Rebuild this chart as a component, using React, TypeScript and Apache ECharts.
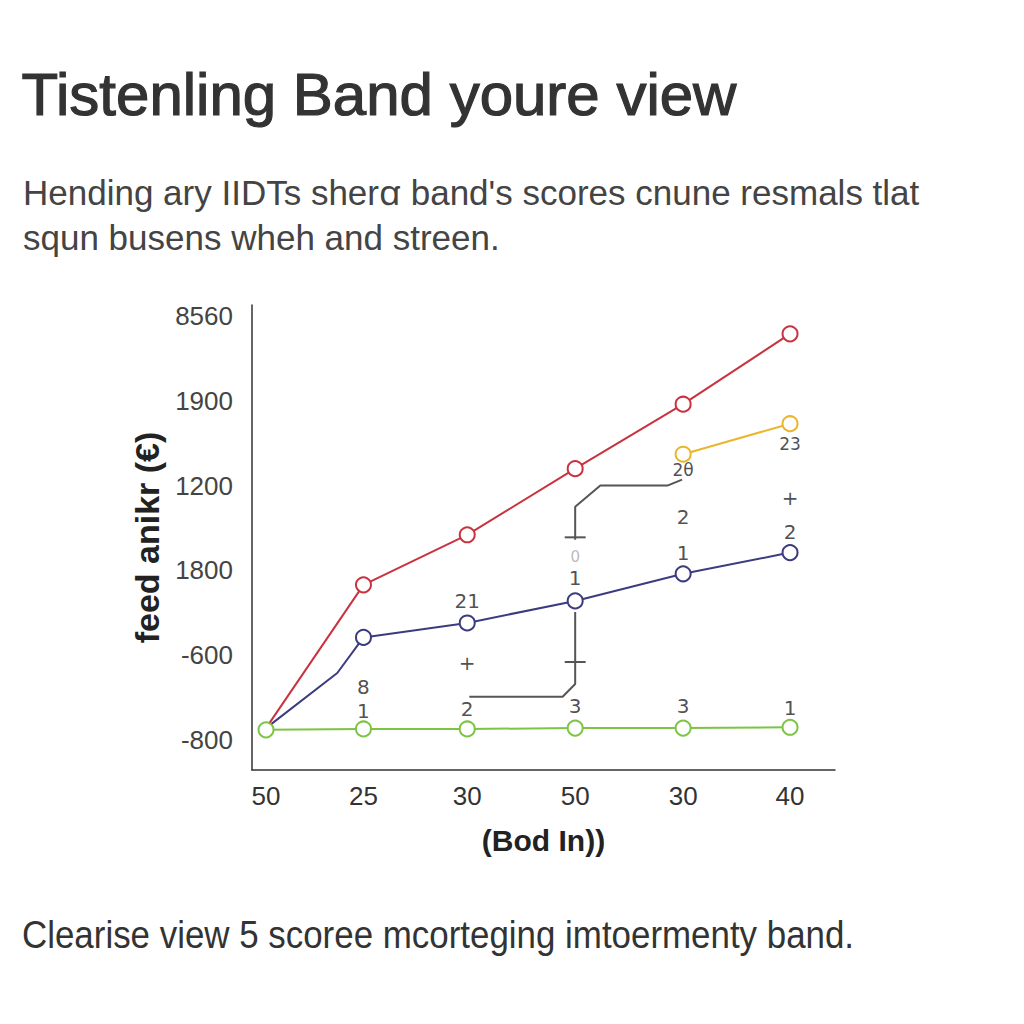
import React, { useEffect, useRef } from "react";
import * as echarts from "echarts";

const titleText = "Tistenling Band youre view";
const subtitleLines = [
  "Hending ary IIDTs sherꭤ band's scores cnune resmals tlat",
  "squn busens wheh and streen.",
];
const footerText = "Clearise view 5 scoree mcorteging imtoermenty band.";
const xAxisName = "(Bod In))";
const yAxisName = "feed anikr (€)";

// category labels and their read positions along the x axis
const xLabels = ["50", "25", "30", "50", "30", "40"];
const xPos = [0, 0.93, 1.92, 2.95, 3.98, 5];
// y tick labels, evenly spaced (position index 0..5)
const yLabels = ["-800", "-600", "1800", "1200", "1900", "8560"];
const yTickPos = [0, 1, 2, 3, 4, 5];

// series values, in y-tick units
const redValues = [0.14, 1.83, 2.42, 3.2, 3.96, 4.79];
const blueValues = [0.14, 1.21, 1.38, 1.64, 1.96, 2.21];
const blueBend = [0.68, 0.79];
const greenValues = [0.12, 0.13, 0.13, 0.14, 0.14, 0.15];
const yellowValues = [3.37, 3.73];

// annotation connectors
const connectorUpper = [
  [2.95, 2.36],
  [2.95, 2.75],
  [3.19, 3.0],
  [3.83, 3.0],
  [3.97, 3.07],
];
const connectorLower = [
  [1.94, 0.51],
  [2.83, 0.51],
  [2.95, 0.66],
  [2.95, 1.51],
];
const tickUpper = [
  [2.85, 2.39],
  [3.05, 2.39],
];
const tickLower = [
  [2.85, 0.92],
  [3.05, 0.92],
];

// annotation texts [x, y, text]
const annotations: [number, number, string][] = [
  [0.93, 0.625, "8"],
  [0.93, 0.34, "1"],
  [1.92, 0.37, "2"],
  [2.95, 0.4, "3"],
  [3.98, 0.4, "3"],
  [5, 0.38, "1"],
  [1.92, 1.64, "21"],
  [2.95, 1.91, "1"],
  [3.98, 2.21, "1"],
  [5, 2.45, "2"],
  [3.98, 2.63, "2"],
  [5, 2.85, "+"],
  [1.92, 0.91, "+"],
];
const smallAnnotations: [number, number, string][] = [
  [3.98, 3.18, "2θ"],
  [5, 3.49, "23"],
];
const grayAnnotations: [number, number, string][] = [[2.95, 2.16, "0"]];

const FONT = "'Liberation Sans', Arial, sans-serif";

export default function App() {
  const ref = useRef<HTMLDivElement>(null);

  useEffect(() => {
    if (!ref.current) return;
    const chart = echarts.init(ref.current, undefined, { renderer: "svg" });

    const lineStyleSeries = (
      name: string,
      color: string,
      data: any[],
      z: number
    ) => ({
      name,
      type: "line",
      data,
      z,
      symbol: "circle",
      symbolSize: 15,
      showSymbol: true,
      lineStyle: { color, width: 2 },
      itemStyle: { color: "#ffffff", borderColor: color, borderWidth: 2 },
    });

    const plainLine = (data: number[][]) => ({
      type: "line",
      data,
      symbol: "none",
      z: 1,
      lineStyle: { color: "#555", width: 2 },
    });

    const redData = redValues.map((v, i) =>
      i === 0 ? { value: [xPos[i], v], symbol: "none" } : [xPos[i], v]
    );
    const blueData: any[] = blueValues.map((v, i) =>
      i === 0 ? { value: [xPos[i], v], symbol: "none" } : [xPos[i], v]
    );
    blueData.splice(1, 0, { value: blueBend, symbol: "none" });
    const greenData = greenValues.map((v, i) => [xPos[i], v]);
    const yellowData = yellowValues.map((v, i) => [xPos[4 + i], v]);

    const textScatter = (
      items: [number, number, string][],
      color: string,
      size: number
    ) => ({
      type: "scatter",
      symbolSize: 0,
      z: 10,
      data: items.map((a) => ({ value: [a[0], a[1]], name: a[2] })),
      label: {
        show: true,
        position: "inside",
        formatter: "{b}",
        color,
        fontSize: size,
        fontFamily: "'DejaVu Sans', sans-serif",
      },
    });

    const option: any = {
      animation: false,
      backgroundColor: "#ffffff",
      grid: { left: 252, top: 305, width: 583, height: 465, containLabel: false },
      xAxis: {
        type: "value",
        min: -0.1336,
        max: 5.429,
        name: xAxisName,
        nameLocation: "middle",
        nameGap: 55,
        nameTextStyle: {
          fontSize: 30,
          fontWeight: "bold",
          color: "#222",
          fontFamily: FONT,
        },
        axisLine: {
          show: true,
          onZero: false,
          lineStyle: { color: "#333", width: 1.5 },
        },
        axisTick: { show: false },
        splitLine: { show: false },
        axisLabel: {
          customValues: xPos,
          formatter: (v: number) => {
            const i = xPos.findIndex((p) => Math.abs(p - v) < 1e-6);
            return i >= 0 ? xLabels[i] : "";
          },
          fontSize: 26,
          color: "#333",
          fontFamily: FONT,
          margin: 13,
        },
      },
      yAxis: {
        type: "value",
        min: -0.354,
        max: 5.13,
        name: yAxisName,
        nameLocation: "middle",
        nameGap: 78,
        nameRotate: 90,
        nameTextStyle: {
          fontSize: 34,
          fontWeight: "bold",
          color: "#222",
          fontFamily: FONT,
        },
        axisLine: {
          show: true,
          onZero: false,
          lineStyle: { color: "#333", width: 1.5 },
        },
        axisTick: { show: false },
        splitLine: { show: false },
        axisLabel: {
          customValues: yTickPos,
          formatter: (v: number) => {
            const i = yTickPos.findIndex((p) => Math.abs(p - v) < 1e-6);
            return i >= 0 ? yLabels[i] : "";
          },
          fontSize: 26,
          color: "#444",
          fontFamily: FONT,
          margin: 19,
        },
      },
      series: [
        plainLine(connectorUpper),
        plainLine(connectorLower),
        plainLine(tickUpper),
        plainLine(tickLower),
        lineStyleSeries("red", "#c8333f", redData, 2),
        lineStyleSeries("blue", "#3b3c80", blueData, 3),
        lineStyleSeries("yellow", "#e9b62e", yellowData, 3),
        lineStyleSeries("green", "#7cc444", greenData, 4),
        textScatter(annotations, "#222", 20),
        textScatter(smallAnnotations, "#222", 17),
        textScatter(grayAnnotations, "#aaa", 15),
      ],
      graphic: [
        {
          type: "text",
          left: 21,
          top: 64,
          style: {
            text: titleText,
            fontSize: 60,
            fontFamily: FONT,
            fill: "#333",
            stroke: "#333",
            lineWidth: 1.2,
          },
        },
        {
          type: "text",
          left: 23,
          top: 175,
          style: {
            text: subtitleLines[0],
            fontSize: 35,
            fontFamily: FONT,
            fill: "#444",
          },
        },
        {
          type: "text",
          left: 23,
          top: 220,
          style: {
            text: subtitleLines[1],
            fontSize: 35,
            fontFamily: FONT,
            fill: "#444",
          },
        },
        {
          type: "text",
          x: 22,
          y: 915,
          scaleX: 0.895,
          style: {
            text: footerText,
            fontSize: 39,
            fontFamily: FONT,
            fill: "#333",
          },
        },
      ],
    };

    chart.setOption(option);
    return () => chart.dispose();
  }, []);

  return (
    <div
      ref={ref}
      style={{ position: "fixed", left: 0, top: 0, width: 1024, height: 1024 }}
    />
  );
}
